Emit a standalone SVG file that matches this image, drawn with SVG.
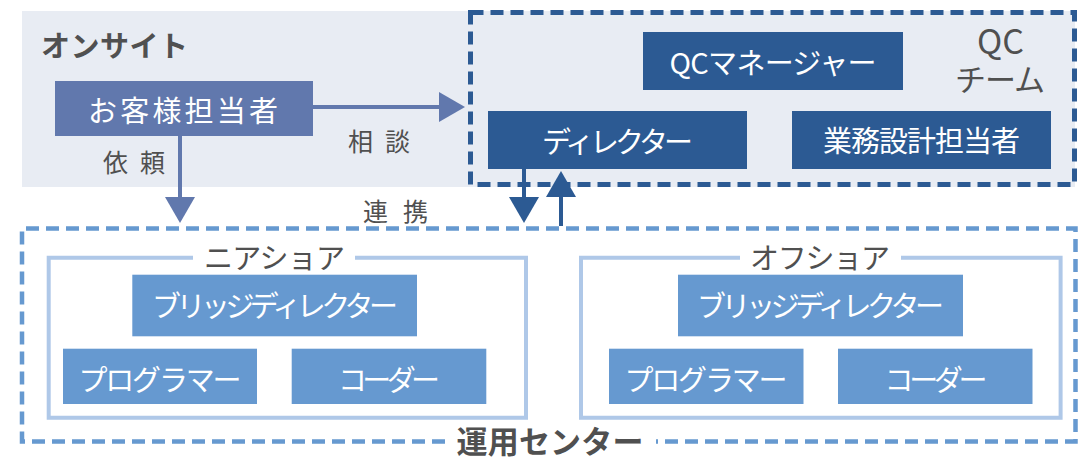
<svg xmlns="http://www.w3.org/2000/svg" width="1078" height="458" viewBox="0 0 1078 458">
<style>
text{font-family:"Noto Sans CJK JP","Noto Sans",sans-serif;}
.w{fill:#ffffff;font-size:29px;text-anchor:middle;dominant-baseline:central;}
.g{fill:#505050;text-anchor:middle;dominant-baseline:central;}
.lbl{fill:#505050;font-size:25px;text-anchor:middle;dominant-baseline:central;}
.cust{fill:#6178AD;}
.navy{fill:#2C5A93;}
.lite{fill:#6699D0;}
.grp{fill:none;stroke:#AFC8E8;stroke-width:4;}
</style>
<defs>
<marker id="ahC" viewBox="0 0 26 30" refX="2" refY="15" markerWidth="26" markerHeight="30" markerUnits="userSpaceOnUse" orient="auto"><path d="M0,0 L26,15 L0,30 Z" fill="#6178AD"/></marker>
<marker id="ahN" viewBox="0 0 26 30" refX="2" refY="15" markerWidth="26" markerHeight="30" markerUnits="userSpaceOnUse" orient="auto"><path d="M0,0 L26,15 L0,30 Z" fill="#2C5A93"/></marker>
</defs>

<g id="onsite">
<rect x="22" y="11" width="1053" height="176" fill="#E8ECF3"/>
<text class="g" x="114.5" y="43.5" font-size="29" font-weight="bold" textLength="147">オンサイト</text>
</g>

<g id="qc-team">
<rect x="470.5" y="12.5" width="604" height="172" fill="none" stroke="#2C5A93" stroke-width="5" stroke-dasharray="13 7"/>
<text class="g" x="1000.5" y="39" font-size="34">QC</text>
<text class="g" x="1000" y="77" font-size="31" textLength="90">チーム</text>
</g>

<g id="customer">
<rect class="cust" x="55" y="81" width="258" height="55"/>
<text class="w" x="183" y="108.5" font-size="31" textLength="190">お客様担当者</text>
</g>

<g id="qc-manager">
<rect class="navy" x="643" y="32" width="260" height="58"/>
<text class="w" x="773" y="61" textLength="207">QCマネージャー</text>
</g>

<g id="director">
<rect class="navy" x="488" y="111" width="259" height="58"/>
<text class="w" x="617.5" y="140" textLength="151">ディレクター</text>
</g>

<g id="biz-designer">
<rect class="navy" x="792" y="111" width="259" height="58"/>
<text class="w" x="921.5" y="139" textLength="197">業務設計担当者</text>
</g>

<g id="ops-center">
<path d="M445,441.5 H22 V228.5 H1075.5 V441.5 H656" fill="none" stroke="#6699D0" stroke-width="4.5" stroke-dasharray="13 7"/>
<text class="g" x="550" y="439" font-size="31" font-weight="bold" textLength="187">運用センター</text>
</g>

<g id="nearshore">
<path class="grp" d="M193,257.7 H48.7 V417.7 H526 V257.7 H355"/>
<text class="g" x="274.5" y="255.5" font-size="29" textLength="141">ニアショア</text>
</g>

<g id="near-bridge">
<rect class="lite" x="132.3" y="274.7" width="284.7" height="61.6"/>
<text class="w" x="275" y="304" textLength="246">ブリッジディレクター</text>
</g>
<g id="near-programmer">
<rect class="lite" x="63" y="348.7" width="194" height="55.3"/>
<text class="w" x="160" y="377.5" textLength="163">プログラマー</text>
</g>
<g id="near-coder">
<rect class="lite" x="291.7" y="348.7" width="194.6" height="55.3"/>
<text class="w" x="389" y="377.5" textLength="102">コーダー</text>
</g>

<g id="offshore">
<path class="grp" d="M740,257.7 H581 V417.7 H1060.6 V257.7 H901"/>
<text class="g" x="820" y="255.5" font-size="29" textLength="140">オフショア</text>
</g>

<g id="off-bridge">
<rect class="lite" x="678" y="274.7" width="285" height="61.6"/>
<text class="w" x="820.5" y="304" textLength="247">ブリッジディレクター</text>
</g>
<g id="off-programmer">
<rect class="lite" x="609" y="348.7" width="194.5" height="55.3"/>
<text class="w" x="706" y="377.5" textLength="163">プログラマー</text>
</g>
<g id="off-coder">
<rect class="lite" x="838" y="348.7" width="194.5" height="55.3"/>
<text class="w" x="936" y="377.5" textLength="103">コーダー</text>
</g>

<g id="connectors">
<path d="M313,107 H441" stroke="#6178AD" stroke-width="4" fill="none" marker-end="url(#ahC)"/>
<path d="M180,136 V199" stroke="#6178AD" stroke-width="4" fill="none" marker-end="url(#ahC)"/>
<path d="M524,169 V199" stroke="#2C5A93" stroke-width="4" fill="none" marker-end="url(#ahN)"/>
<path d="M561,226 V195" stroke="#2C5A93" stroke-width="4" fill="none" marker-end="url(#ahN)"/>
<text class="lbl" x="379" y="140" textLength="62">相談</text>
<text class="lbl" x="134" y="161" textLength="62">依頼</text>
<text class="lbl" x="395.5" y="209.5" textLength="65">連携</text>
</g>
</svg>
